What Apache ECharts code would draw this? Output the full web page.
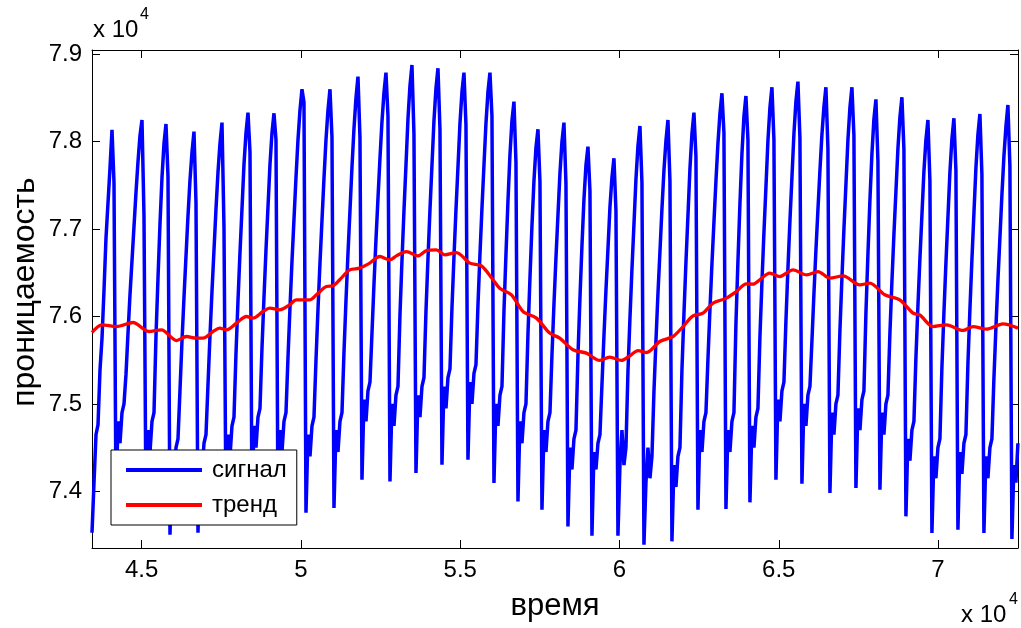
<!DOCTYPE html>
<html><head><meta charset="utf-8">
<script src="https://cdn.jsdelivr.net/npm/echarts@6/dist/echarts.min.js"></script>
<style>html,body{margin:0;padding:0;background:#fff}#c{width:1021px;height:628px}</style>
</head><body><div id="c"></div>
<script>
const xTicks = [45000, 50000, 55000, 60000, 65000, 70000];
const yTicks = [74000, 75000, 76000, 77000, 78000, 79000];
const xRange = [43440, 72510];
const yRange = [73352, 79048];
const seriesNames = ['сигнал', 'тренд'];

// signal: uniformly sampled, first sample time and sampling step
const signalStart = 43440;
const signalStep = 62.78;
const signal = [
73527,74100,74650,74760,75390,75750,76300,76900,77300,77700,
78134,
77530,73900,74800,74550,74900,75000,75340,75810,76250,76640,77030,77420,77770,78070,
78248,
77150,73800,74700,74450,74800,74900,75780,76440,77060,77590,77980,
78202,
77600,73504,74400,74150,74500,74600,75160,75720,76220,76690,77150,77560,77880,
78114,
77300,73527,74450,74200,74550,74650,75220,75780,76290,76760,77230,77650,77980,
78217,
77020,73750,74650,74400,74750,74850,75580,76180,76730,77230,77740,78100,
78331,
77880,73850,74750,74500,74850,74950,75640,76220,76760,77250,77740,78100,
78324,
78020,73800,74700,74450,74800,74900,75530,76100,76630,77110,77590,78020,78360,
78599,
78450,73756,74650,74400,74750,74850,75500,76080,76610,77100,77580,78020,78360,
78599,
78050,73810,74700,74450,74800,74900,75590,76180,76720,77210,77710,78150,78500,
78743,
78040,74133,75050,74800,75150,75250,75810,76370,76880,77350,77810,78230,78560,
78789,
78290,74114,75000,74750,75100,75200,76020,76640,77210,77730,78260,78640,
78877,
78080,74210,75100,74850,75200,75300,76060,76660,77220,77730,78240,78610,
78839,
78140,74305,75200,74950,75300,75400,76100,76680,77220,77710,78210,78570,
78789,
78190,74362,75250,75000,75350,75450,76130,76710,77240,77730,78210,78570,
78789,
78290,74095,75000,74750,75100,75200,76060,76710,77320,77850,78240,
78457,
77760,73885,74800,74550,74900,75000,75800,76440,77040,77550,77930,
78142,
77540,73790,74700,74450,74800,74900,75560,76140,76670,77160,77640,78000,
78217,
77520,73599,74500,74250,74600,74700,75550,76210,76810,77340,77730,
77943,
77440,73493,74450,74250,74550,74650,75220,75780,76300,76770,77250,77590,
77810,
77210,73493,74300,74700,74300,74500,75370,75980,76540,77050,77570,77950,
78179,
77530,73390,74100,74500,74150,74400,75140,75720,76260,76740,77230,77670,78010,
78248,
77550,73428,74300,74050,74400,74500,75390,76030,76620,77150,77690,78090,
78331,
77830,73790,74700,74450,74800,74900,75510,76080,76600,77080,77550,77980,78320,
78553,
78100,73798,74700,74450,74800,74900,75920,76630,77290,77860,78290,
78522,
78020,73874,74750,74500,74850,74950,75770,76390,76960,77480,78010,78390,
78622,
78020,74133,75050,74800,75150,75250,75950,76550,77090,77590,78090,78460,
78686,
78040,74088,75000,74750,75100,75200,75720,76260,76760,77220,77670,78080,78400,
78622,
77920,73981,74900,74650,75000,75100,75840,76440,77000,77510,78020,78390,
78622,
78070,74038,74950,74700,75050,75150,76040,76710,77330,77860,78260,
78484,
77780,74019,74900,74650,75000,75100,75810,76400,76940,77430,77920,78280,
78507,
77910,73714,74600,74350,74700,74800,75530,76120,76660,77160,77660,78020,
78248,
77550,73524,74400,74150,74500,74600,75420,76040,76610,77130,77650,78030,
78267,
77670,73562,74450,74200,74550,74650,75460,76080,76650,77180,77700,78080,
78316,
77620,73524,74400,74150,74500,74600,75290,75870,76410,76900,77390,77830,78170,
78419,
77720,73455,74300,74100,74550
];

const trendTime = [43440,43754,44206,44727,45220,45618,46089,46403,46717,46925,47238,47449,47659,47973,48287,48494,48808,49019,49333,49646,49857,50274,50485,50799,51006,51216,51530,51844,52158,52472,52786,52996,53310,53674,53938,54252,54513,54880,55298,55665,56029,56239,56607,56971,57392,57809,58123,58541,58961,59379,59693,60060,60321,60581,60845,61263,61680,61994,62308,62622,62936,63357,63671,63984,64192,64402,64716,65030,65448,65868,66233,66600,67018,67542,67856,68326,68797,69215,69425,69843,70263,70785,71098,71519,72041,72510];
const trendValue = [75817,75905,75885,75931,75828,75848,75725,75771,75752,75752,75828,75867,75848,75924,76000,75981,76057,76096,76076,76133,76190,76190,76248,76343,76350,76420,76533,76553,76610,76686,76648,76693,76743,76693,76754,76762,76705,76731,76610,76579,76420,76324,76248,76057,75981,75810,75752,75619,75581,75497,75536,75497,75550,75610,75588,75714,75771,75885,76007,76038,76153,76210,76286,76373,76370,76420,76496,76457,76533,76476,76514,76438,76465,76362,76381,76248,76190,76038,76019,75885,75905,75840,75885,75855,75916,75867];

const FONT = '"Liberation Sans", Arial, Helvetica, sans-serif';
const signalData = signal.map((v, i) => [signalStart + i * signalStep, v]);
const trendData = trendTime.map((t, i) => [t, trendValue[i]]);
const fmt = v => String(+(v / 10000).toFixed(2));

const tickStyle = {show: true, inside: true, length: 8, lineStyle: {color: '#000', width: 1}};
function xAxis(pos, labels) {
  return {
    type: 'value', position: pos, min: xRange[0], max: xRange[1],
    axisLine: {show: true, onZero: false, lineStyle: {color: '#000', width: 1}},
    axisTick: Object.assign({customValues: xTicks}, tickStyle),
    axisLabel: {show: labels, customValues: xTicks, formatter: fmt, fontSize: 24, color: '#000', fontFamily: FONT, margin: 10},
    splitLine: {show: false}
  };
}
function yAxis(pos, labels) {
  return {
    type: 'value', position: pos, min: yRange[0], max: yRange[1],
    axisLine: {show: true, onZero: false, lineStyle: {color: '#000', width: 1}},
    axisTick: Object.assign({customValues: yTicks}, tickStyle),
    axisLabel: {show: labels, customValues: yTicks, formatter: fmt, fontSize: 24, color: '#000', fontFamily: FONT, margin: 10},
    splitLine: {show: false}
  };
}

const chart = echarts.init(document.getElementById('c'), null, {renderer: 'canvas'});
chart.setOption({
  animation: false,
  backgroundColor: '#fff',
  grid: {left: 92, right: 3, top: 50, bottom: 80, containLabel: false},
  xAxis: [xAxis('bottom', true), xAxis('top', false)],
  yAxis: [yAxis('left', true), yAxis('right', false)],
  legend: {
    left: 111, top: 450, orient: 'vertical',
    backgroundColor: '#fff', borderColor: '#000', borderWidth: 1,
    padding: [8, 10, 8, 15], itemGap: 11, itemWidth: 76, itemHeight: 4, icon: 'rect',
    textStyle: {fontSize: 24, color: '#000', fontFamily: FONT, padding: [0, 0, 0, 5]},
    data: seriesNames
  },
  series: [
    {name: seriesNames[0], type: 'line', data: signalData, showSymbol: false, clip: true, step: 'end',
     lineStyle: {color: '#0000ff', width: 3.5}, itemStyle: {color: '#0000ff'}},
    {name: seriesNames[1], type: 'line', data: trendData, showSymbol: false, clip: true, smooth: 0.3,
     lineStyle: {color: '#ff0000', width: 3.3}, itemStyle: {color: '#ff0000'}}
  ],
  graphic: [
    {type: 'text', left: 93, top: 18, style: {text: 'x 10', font: '24px ' + FONT, fill: '#000'}},
    {type: 'text', left: 140, top: 7, style: {text: '4', font: '16px ' + FONT, fill: '#000'}},
    {type: 'text', left: 961, top: 603, style: {text: 'x 10', font: '24px ' + FONT, fill: '#000'}},
    {type: 'text', left: 1009, top: 592, style: {text: '4', font: '16px ' + FONT, fill: '#000'}},
    {type: 'text', x: 555, y: 606, style: {text: 'время', font: '31px ' + FONT, fill: '#000', align: 'center', verticalAlign: 'middle'}},
    {type: 'text', x: 25, y: 292, rotation: Math.PI / 2, style: {text: 'проницаемость', font: '32px ' + FONT, fill: '#000', align: 'center', verticalAlign: 'middle'}}
  ]
});
</script>
</body></html>
